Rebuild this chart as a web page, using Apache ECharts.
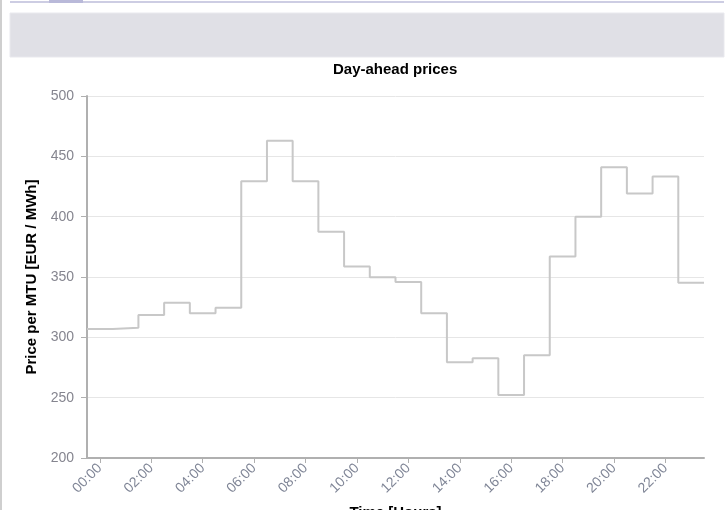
<!DOCTYPE html>
<html>
<head>
<meta charset="utf-8">
<script src="https://cdn.jsdelivr.net/npm/echarts@6/dist/echarts.min.js"></script>
<style>
html,body{margin:0;padding:0;background:#fff;}
#chart{width:727px;height:510px;}
</style>
</head>
<body>
<div id="chart"></div>
<script>
var hours = ['00:00','01:00','02:00','03:00','04:00','05:00','06:00','07:00','08:00','09:00','10:00','11:00',
             '12:00','13:00','14:00','15:00','16:00','17:00','18:00','19:00','20:00','21:00','22:00','23:00'];
var prices = [307, 308, 318.5, 328.7, 320, 324.6, 429.3, 463, 429.3, 387.6, 358.6, 349.7,
              345.8, 320, 279.4, 282.7, 252.2, 285.1, 366.9, 400, 440.9, 419.1, 433.2, 345.3];
var yTicks = [200, 250, 300, 350, 400, 450, 500];

var stepData = prices.map(function (v, i) { return [i, v]; });
stepData.push([prices.length, prices[prices.length - 1]]);

var chart = echarts.init(document.getElementById('chart'));
var font = '"Liberation Sans", Arial, sans-serif';
chart.setOption({
  animation: false,
  backgroundColor: '#ffffff',
  textStyle: { fontFamily: font },
  graphic: [
    { type: 'rect', shape: { x: 0, y: 0, width: 2, height: 510 }, style: { fill: '#cfcfcf' }, silent: true },
    { type: 'rect', shape: { x: 10, y: 1, width: 714, height: 2 }, style: { fill: '#cdcde3' }, silent: true },
    { type: 'rect', shape: { x: 49, y: 0, width: 34, height: 3 }, style: { fill: '#b9b9d9' }, silent: true },
    { type: 'rect', shape: { x: 10, y: 13, width: 714, height: 44 }, style: { fill: '#e0e0e6', stroke: '#e9e9ee', lineWidth: 1 }, silent: true }
  ],
  title: {
    text: 'Day-ahead prices',
    left: 328, top: 57,
    textStyle: { fontSize: 15, fontWeight: 'bold', color: '#000', fontFamily: font }
  },
  grid: { left: 87, right: 23, top: 96, bottom: 52, containLabel: false, outerBoundsMode: 'none' },
  xAxis: [
    {
      type: 'category',
      data: hours,
      boundaryGap: true,
      name: 'Time [Hours]',
      nameLocation: 'middle',
      nameGap: 47,
      nameTextStyle: { fontSize: 15, fontWeight: 'bold', color: '#000' },
      axisLine: { lineStyle: { color: '#b0b0b0', width: 2 } },
      axisTick: { show: true, alignWithLabel: true, interval: 1, length: 5, lineStyle: { color: '#b0b0b0', width: 1 } },
      axisLabel: { interval: 1, rotate: 45, margin: 8, fontSize: 14, color: '#7f8596' },
      splitLine: { show: false }
    },
    {
      type: 'value',
      min: 0, max: 24,
      show: false
    }
  ],
  yAxis: {
    type: 'value',
    min: yTicks[0], max: yTicks[yTicks.length - 1], interval: 50,
    name: 'Price per MTU [EUR / MWh]',
    nameLocation: 'middle',
    nameGap: 45,
    nameTextStyle: { fontSize: 15, fontWeight: 'bold', color: '#000' },
    axisLine: { show: true, lineStyle: { color: '#b0b0b0', width: 2 } },
    axisTick: { show: true, length: 6, lineStyle: { color: '#b0b0b0', width: 1 } },
    axisLabel: { margin: 13, fontSize: 14, color: '#85858f' },
    splitLine: { lineStyle: { color: '#e6e6e6', width: 1 } }
  },
  series: [{
    type: 'line',
    xAxisIndex: 1,
    step: 'end',
    data: stepData,
    showSymbol: false,
    symbol: 'none',
    lineStyle: { color: '#c8c8c8', width: 2 },
    itemStyle: { color: '#c8c8c8' }
  }]
});
</script>
</body>
</html>
